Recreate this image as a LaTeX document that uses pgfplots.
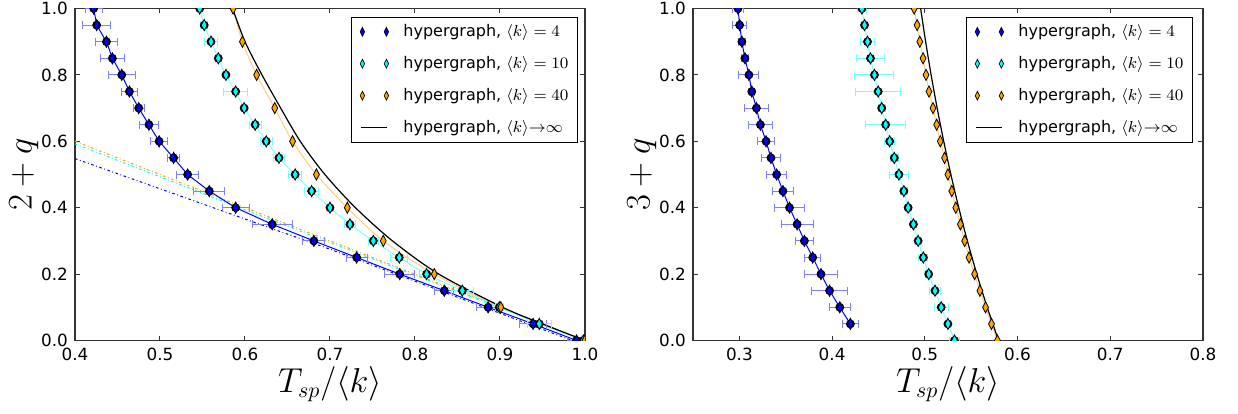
\documentclass[border=0pt]{standalone}
\usepackage{fontspec}
\setmainfont{DejaVu Sans}
\usepackage{pgfplots}
\usepackage{pgfplotstable}
\pgfplotsset{compat=1.18}

\definecolor{cb}{rgb}{0,0,1}
\definecolor{cc}{rgb}{0,1,1}
\definecolor{co}{rgb}{1,0.647,0}
\definecolor{ebb}{rgb}{0.5,0.5,1}
\definecolor{ebc}{rgb}{0.45,1,1}
\definecolor{lc}{rgb}{0.5,1,1}
\definecolor{lo}{rgb}{1,0.8,0.5}

% ---- left panel: 2+q ----
\pgfplotstableread{
T y e
0.422 1.00 0.010
0.4255 0.95 0.0167
0.437 0.90 0.013
0.444 0.85 0.014
0.455 0.80 0.016
0.464 0.75 0.009
0.475 0.70 0.0065
0.487 0.65 0.011
0.499 0.60 0.010
0.516 0.55 0.007
0.5325 0.50 0.013
0.558 0.45 0.018
0.589 0.40 0.016
0.632 0.35 0.0235
0.681 0.30 0.013
0.7314 0.25 0.0125
0.782 0.20 0.018
0.8345 0.15 0.011
0.886 0.10 0.014
0.939 0.05 0.016
0.990 0.00 0.010
}\lblue
\pgfplotstableread{
T y e
0.5467 1.00 0.003
0.552 0.95 0.004
0.560 0.90 0.008
0.5686 0.85 0.003
0.5776 0.80 0.003
0.589 0.75 0.0137
0.599 0.70 0.003
0.612 0.65 0.007
0.625 0.60 0.007
0.640 0.55 0.007
0.659 0.50 0.008
0.6784 0.45 0.008
0.700 0.40 0.003
0.7235 0.35 0.0065
0.751 0.30 0.006
0.7815 0.25 0.0098
0.8137 0.20 0.008
0.8557 0.15 0.0127
0.8992 0.10 0.005
0.9462 0.05 0.0143
0.998 0.00 0.003
}\lcyan
\pgfplotstableread{
T y
0.586 1.0
0.597 0.9
0.6137 0.8
0.635 0.7
0.656 0.6
0.684 0.5
0.7204 0.4
0.7627 0.3
0.8227 0.2
0.901 0.1
1.0 0.0
}\lorange
\pgfplotstableread{
T y
0.5855 1.0
0.600 0.9
0.620 0.8
0.642 0.7
0.665 0.6
0.694 0.5
0.730 0.4
0.7735 0.3
0.828 0.2
0.903 0.1
0.950 0.05
1.0 0.0
}\lblack

% ---- right panel: 3+q ----
\pgfplotstableread{
T y e
0.2985 1.00 0.0057
0.3003 0.95 0.0075
0.3027 0.90 0.0036
0.306 0.85 0.004
0.3103 0.80 0.0107
0.3134 0.75 0.003
0.3184 0.70 0.0125
0.3227 0.65 0.013
0.3288 0.60 0.009
0.3341 0.55 0.0105
0.3402 0.50 0.0107
0.347 0.45 0.011
0.3541 0.40 0.0157
0.3623 0.35 0.0173
0.3701 0.30 0.0096
0.3791 0.25 0.0087
0.388 0.20 0.0176
0.3973 0.15 0.0198
0.4083 0.10 0.0114
0.4197 0.05 0.0089
}\rblue
\pgfplotstableread{
T y e
0.4322 1.00 0.0045
0.435 0.95 0.003
0.4382 0.90 0.0077
0.4414 0.85 0.0152
0.4457 0.80 0.021
0.4497 0.75 0.0244
0.4535 0.70 0.0036
0.4578 0.65 0.0214
0.4621 0.60 0.0053
0.4671 0.55 0.004
0.4721 0.50 0.0098
0.4774 0.45 0.004
0.482 0.40 0.003
0.4877 0.35 0.003
0.4928 0.30 0.003
0.4984 0.25 0.0048
0.5042 0.20 0.003
0.511 0.15 0.006
0.5177 0.10 0.0075
0.5249 0.05 0.003
0.532 0.00 0.005
}\rcyan
\pgfplotstableread{
T y
0.4885 1.00
0.4917 0.95
0.4946 0.90
0.4981 0.85
0.5013 0.80
0.5045 0.75
0.5088 0.70
0.5128 0.65
0.5167 0.60
0.5213 0.55
0.5249 0.50
0.5291 0.45
0.5334 0.40
0.5384 0.35
0.5430 0.30
0.5477 0.25
0.5537 0.20
0.5594 0.15
0.5655 0.10
0.5719 0.05
0.5783 0.00
}\rorange
\pgfplotstableread{
T y
0.4955 1.0
0.5009 0.9
0.5068 0.8
0.5133 0.7
0.5204 0.6
0.5281 0.5
0.5366 0.4
0.5459 0.3
0.5561 0.2
0.5673 0.1
0.5795 0.0
}\rblack

\pgfplotsset{
  panel/.style={
    scale only axis, width=255pt, height=166pt,
    ymin=0, ymax=1, ytick={0,0.2,0.4,0.6,0.8,1},
    tick align=inside, major tick length=2.3pt,
    axis line style={line width=0.6pt, black!80},
    every tick/.style={line width=0.5pt, black!80},
    ticklabel style={font=\fontsize{8.4}{10}\selectfont},
    label style={font=\fontsize{16}{19}\selectfont},
    /pgf/number format/fixed, /pgf/number format/fixed zerofill,
    /pgf/number format/precision=1, /pgf/number format/assume math mode=true,
    xlabel style={at={([yshift=-26pt]axis description cs:0.5,0)}, anchor=base},
    ylabel style={at={([xshift=-21.7pt]axis description cs:0,0.5)}, anchor=base},
    clip marker paths=true,
    legend cell align=left,
    legend style={anchor=north east, draw=black, line width=0.5pt,
      font=\fontsize{8}{10}\selectfont, inner xsep=2.5pt, inner ysep=1.6pt,
      row sep=4.4pt},
  },
  mk/.style={forget plot, only marks, mark=diamond*, mark size=2.8pt,
    mark options={xscale=0.7, draw=black, line width=0.4pt, fill=#1}},
  eb/.style={forget plot, only marks, mark=none,
    error bars/.cd, x dir=both, x explicit, error mark=|,
    error bar style={draw=#1, line width=0.5pt},
    error mark options={draw=#1, mark size=2pt, line width=0.5pt}},
  ln/.style={forget plot, no marks, line width=0.5pt, #1},
  % legend key: two small diamonds
  lg/.style={legend image code/.code={
      \filldraw[fill=#1, draw=black, line width=0.35pt]
        (0pt,2.2pt) -- (1.1pt,0pt) -- (0pt,-2.2pt) -- (-1.1pt,0pt) -- cycle
        (12pt,2.2pt) -- (13.1pt,0pt) -- (12pt,-2.2pt) -- (10.9pt,0pt) -- cycle;
      \path[draw=none, fill=none] (-3pt,0pt) rectangle (18.5pt,0.1pt);}},
  lgl/.style={legend image code/.code={
      \draw[black, line width=0.6pt] (-0.5pt,0pt) -- (12.5pt,0pt);
      \path[draw=none, fill=none] (-3pt,0pt) rectangle (18.5pt,0.1pt);}},
}

\begin{document}
\begin{tikzpicture}
\useasboundingbox (-37.5pt,-36.5pt) rectangle (581.5pt,170.25pt);
\begin{axis}[panel, xmin=0.4, xmax=1.0, xtick={0.4,0.5,0.6,0.7,0.8,0.9,1.0},
  xlabel={$T_{sp}/\langle k\rangle$}, ylabel={$2+q$},
  legend style={at={(1,1)}, xshift=-3.5pt, yshift=-4pt}]
\addlegendimage{lg=cb}\addlegendentry{hypergraph, $\langle k\rangle=4$}
\addlegendimage{lg=cc}\addlegendentry{hypergraph, $\langle k\rangle=10$}
\addlegendimage{lg=co}\addlegendentry{hypergraph, $\langle k\rangle=40$}
\addlegendimage{lgl}\addlegendentry{hypergraph, $\langle k\rangle{\to}\infty$}
% dash-dot reference lines
\addplot[ln={co, dash pattern=on 1.3pt off 1.3pt on 0.4pt off 1.3pt}] coordinates {(0.4,0.600) (0.7,0.300) (1.0,0.0)};
\addplot[ln={cc, dash pattern=on 1.3pt off 1.3pt on 0.4pt off 1.3pt}] coordinates {(0.4,0.592) (0.7,0.295) (1.0,0.0)};
\addplot[ln={cb, dash pattern=on 1.3pt off 1.3pt on 0.4pt off 1.3pt}] coordinates {(0.4,0.548) (0.7,0.275) (0.985,0.0)};
% connecting lines
\addplot[ln={lo, smooth, tension=0.5}] table[x=T, y=y] {\lorange};
\addplot[ln={lc, smooth, tension=0.5}] table[x=T, y=y] {\lcyan};
\addplot[ln=cb] table[x=T, y=y] {\lblue};
\addplot[ln={black, line width=0.6pt, smooth, tension=0.5}] table[x=T, y=y] {\lblack};
% error bars
\addplot[eb=ebb] table[x=T, y=y, x error=e] {\lblue};
\addplot[eb=ebc] table[x=T, y=y, x error=e] {\lcyan};
% markers
\addplot[mk=cb] table[x=T, y=y] {\lblue};
\addplot[mk=cc] table[x=T, y=y] {\lcyan};
\addplot[mk=co] table[x=T, y=y] {\lorange};
\end{axis}

\begin{axis}[panel, at={(309pt,0pt)}, xmin=0.25, xmax=0.8,
  xtick={0.3,0.4,0.5,0.6,0.7,0.8},
  xlabel={$T_{sp}/\langle k\rangle$}, ylabel={$3+q$},
  legend style={at={(1,1)}, xshift=-5pt, yshift=-4pt}]
\addlegendimage{lg=cb}\addlegendentry{hypergraph, $\langle k\rangle=4$}
\addlegendimage{lg=cc}\addlegendentry{hypergraph, $\langle k\rangle=10$}
\addlegendimage{lg=co}\addlegendentry{hypergraph, $\langle k\rangle=40$}
\addlegendimage{lgl}\addlegendentry{hypergraph, $\langle k\rangle{\to}\infty$}
\addplot[ln=lo] table[x=T, y=y] {\rorange};
\addplot[ln=lc] table[x=T, y=y] {\rcyan};
\addplot[ln=cb] table[x=T, y=y] {\rblue};
\addplot[ln={black, line width=0.6pt, smooth, tension=0.5}] table[x=T, y=y] {\rblack};
\addplot[eb=ebb] table[x=T, y=y, x error=e] {\rblue};
\addplot[eb=ebc] table[x=T, y=y, x error=e] {\rcyan};
\addplot[mk=cb] table[x=T, y=y] {\rblue};
\addplot[mk=cc] table[x=T, y=y] {\rcyan};
\addplot[mk=co] table[x=T, y=y] {\rorange};
\end{axis}
\end{tikzpicture}
\end{document}
